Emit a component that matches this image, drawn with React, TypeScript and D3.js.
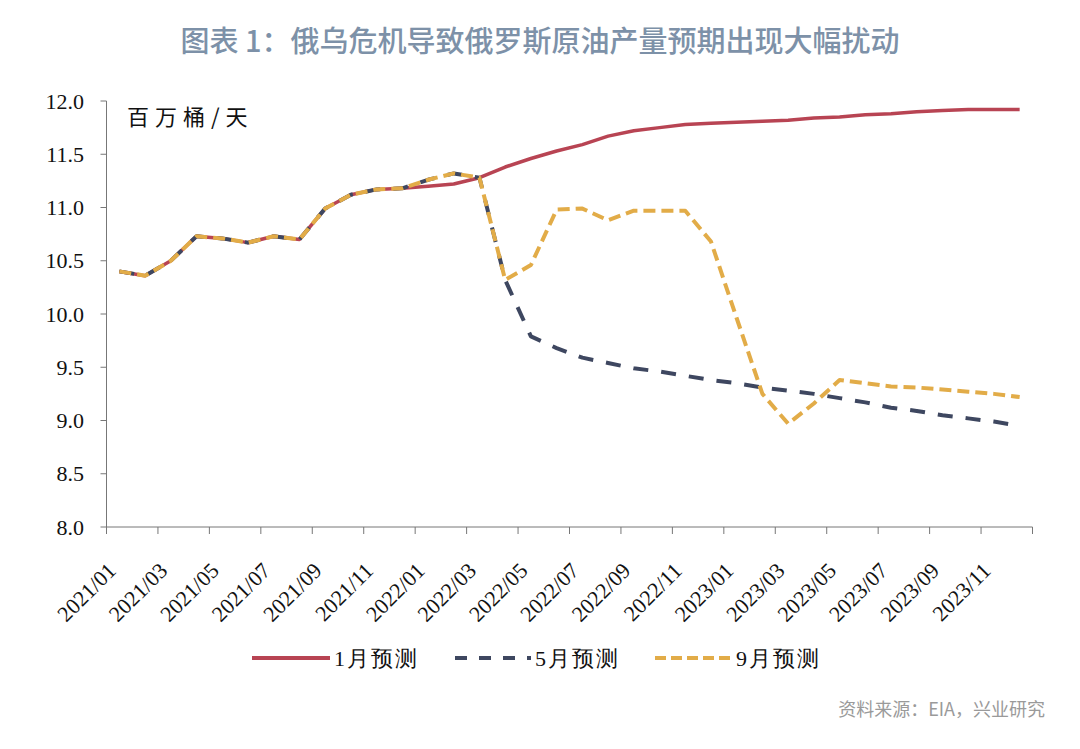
import React from "react";
import * as d3 from "d3";

const months = [
  "2021/01","2021/02","2021/03","2021/04","2021/05","2021/06","2021/07","2021/08","2021/09","2021/10","2021/11","2021/12",
  "2022/01","2022/02","2022/03","2022/04","2022/05","2022/06","2022/07","2022/08","2022/09","2022/10","2022/11","2022/12",
  "2023/01","2023/02","2023/03","2023/04","2023/05","2023/06","2023/07","2023/08","2023/09","2023/10","2023/11","2023/12",
];

const history2021 = [10.40, 10.36, 10.50, 10.73, 10.71, 10.67, 10.73, 10.70, 10.99, 11.12, 11.17, 11.18];

const janForecast = [
  11.20, 11.22, 11.28, 11.38, 11.46, 11.53, 11.59, 11.67, 11.72, 11.75, 11.78, 11.79,
  11.80, 11.81, 11.82, 11.84, 11.85, 11.87, 11.88, 11.90, 11.91, 11.92, 11.92, 11.92,
];
const mayForecast = [
  11.26, 11.32, 11.28, 10.32, 9.79, 9.68, 9.59, 9.54, 9.49, 9.46, 9.42, 9.38,
  9.35, 9.31, 9.28, 9.25, 9.21, 9.17, 9.12, 9.09, 9.05, 9.02, 8.99, 8.95,
];
const sepForecast = [
  11.26, 11.32, 11.28, 10.32, 10.46, 10.98, 10.99, 10.88, 10.97, 10.97, 10.97, 10.68,
  9.96, 9.25, 8.97, 9.16, 9.38, 9.35, 9.32, 9.31, 9.29, 9.27, 9.25, 9.22,
];

const yTicks = [8.0, 8.5, 9.0, 9.5, 10.0, 10.5, 11.0, 11.5, 12.0];
const seriesNames = ["1月预测", "5月预测", "9月预测"];

const title = "图表 1：俄乌危机导致俄罗斯原油产量预期出现大幅扰动";
const unitLabel = "百万桶/天";
const sourceLabel = "资料来源：EIA，兴业研究";

const W = 1080;
const H = 749;
const plot = { left: 106.5, right: 1032.5, top: 101, bottom: 527 };

const colors = ["#b84453", "#3e4760", "#e2ac48"];
const dashes = ["", "15 13", "12 6"];

export default function App() {
  const x = d3.scaleBand<string>().domain(months).range([plot.left, plot.right]).paddingInner(0).paddingOuter(0);
  const y = d3.scaleLinear().domain([8, 12]).range([plot.bottom, plot.top]);
  const cx = (m: string) => (x(m) as number) + x.bandwidth() / 2;

  const series = [janForecast, mayForecast, sepForecast].map((s) =>
    history2021.concat(s).map((v, i) => ({ m: months[i], v }))
  );

  const line = d3
    .line<{ m: string; v: number }>()
    .x((d) => cx(d.m))
    .y((d) => y(d.v));

  const tickBoundaries = months.filter((_, i) => i % 2 === 0).map((m) => x(m) as number).concat([plot.right]);
  const labelMonths = months.filter((_, i) => i % 2 === 0);

  const cjk = "Noto Sans CJK SC";
  const num = "Liberation Serif, serif";

  const legendItems = [
    { x1: 252, x2: 330, tx: 334 },
    { x1: 455, x2: 531, tx: 535 },
    { x1: 655, x2: 732, tx: 736 },
  ];

  return (
    <svg width={W} height={H} style={{ position: "absolute", left: 0, top: 0, background: "#fff" }}>
      <rect x={0} y={0} width={W} height={H} fill="#fff" />
      <text x={540} y={52} textAnchor="middle" fontFamily={cjk} fontSize={29} fontWeight={500} fill="#7d91a8">
        {title}
      </text>

      {/* axes */}
      <line x1={plot.left} x2={plot.left} y1={plot.top} y2={plot.bottom} stroke="#777" strokeWidth={1} />
      <line x1={plot.left} x2={plot.right} y1={plot.bottom} y2={plot.bottom} stroke="#777" strokeWidth={1} />
      {yTicks.map((t) => (
        <g key={t}>
          <line x1={plot.left - 6} x2={plot.left} y1={y(t)} y2={y(t)} stroke="#777" strokeWidth={1} />
          <text x={84} y={y(t)} dy="0.35em" textAnchor="end" fontFamily={num} fontSize={22} fill="#111">
            {t.toFixed(1)}
          </text>
        </g>
      ))}
      {tickBoundaries.map((bx, i) => (
        <line key={i} x1={bx} x2={bx} y1={plot.bottom} y2={plot.bottom + 7} stroke="#777" strokeWidth={1} />
      ))}
      {labelMonths.map((m) => (
        <text
          key={m}
          transform={`translate(${cx(m) - 2},${572}) rotate(-45)`}
          textAnchor="end"
          fontFamily={num}
          fontSize={22}
          fill="#111"
        >
          {m}
        </text>
      ))}

      <text x={127} y={125} fontFamily={cjk} fontSize={22} letterSpacing={6} fill="#111">
        {unitLabel}
      </text>

      {series.map((s, i) => (
        <path
          key={i}
          d={line(s) || ""}
          fill="none"
          stroke={colors[i]}
          strokeWidth={i === 0 ? 3.5 : 4}
          strokeDasharray={dashes[i] || undefined}
          strokeLinejoin="round"
        />
      ))}

      {/* legend */}
      {legendItems.map((it, i) => (
        <g key={i}>
          <line
            x1={it.x1}
            x2={it.x2}
            y1={658}
            y2={658}
            stroke={colors[i]}
            strokeWidth={4}
            strokeDasharray={i === 1 ? "12 12" : i === 2 ? "11 5" : undefined}
          />
          <text x={it.tx} y={658} dy="0.35em" fontFamily={num} fontSize={22} letterSpacing={2} fill="#111">
            {seriesNames[i]}
          </text>
        </g>
      ))}

      <text x={1045} y={716} textAnchor="end" fontFamily={cjk} fontSize={18} fill="#9a9a9a">
        {sourceLabel}
      </text>
    </svg>
  );
}
